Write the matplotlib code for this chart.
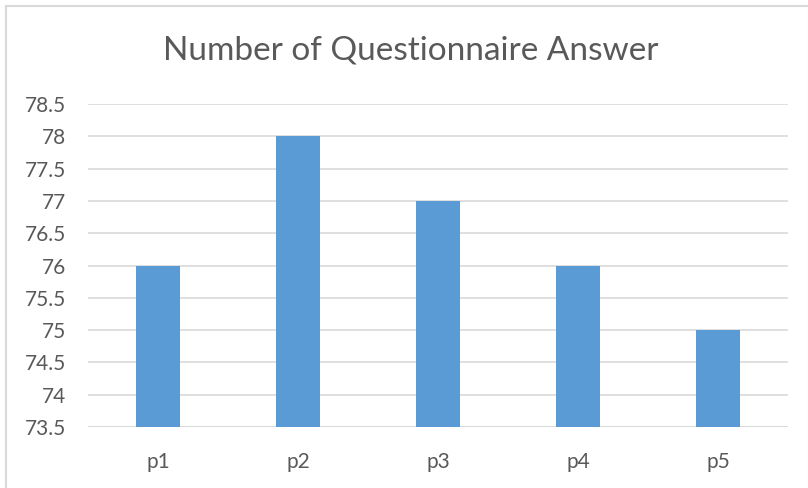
import matplotlib
matplotlib.use("Agg")
import matplotlib.pyplot as plt
from matplotlib.patches import Rectangle

categories = ["p1", "p2", "p3", "p4", "p5"]
values = [76, 78, 77, 76, 75]
yticks = [73.5, 74, 74.5, 75, 75.5, 76, 76.5, 77, 77.5, 78, 78.5]
ytick_labels = ["73.5", "74", "74.5", "75", "75.5", "76", "76.5", "77", "77.5", "78", "78.5"]

plt.rcParams['font.family'] = ['Lato', 'DejaVu Sans']
text_color = "#595959"

fig = plt.figure(figsize=(8.08, 4.88), dpi=100)
ax = fig.add_axes([88/808, 1-427/488, 700/808, 323/488])

x = list(range(len(categories)))
ax.bar(x, [v - 73.5 for v in values], bottom=73.5, width=0.31, color="#5B9BD5", zorder=3)
ax.set_xlim(-0.5, len(categories) - 0.5)
ax.set_ylim(73.5, 78.5)
ax.set_yticks(yticks)
ax.set_yticklabels(ytick_labels)
ax.set_xticks(x)
ax.set_xticklabels(categories)
ax.yaxis.grid(True, color="#D9D9D9", linewidth=1.2, zorder=0)
ax.tick_params(axis='both', length=0, colors=text_color, labelsize=15)
ax.tick_params(axis='y', pad=16)
ax.tick_params(axis='x', pad=18)
for s in ax.spines.values():
    s.set_visible(False)
ax.axhline(73.5, color="#D9D9D9", linewidth=1.2, zorder=2)

fig.text(411/808, 1-60/488, "Number of Questionnaire Answer", ha="center", va="baseline",
         fontsize=24, color=text_color)

fig.patches.append(Rectangle((6/808, -0.01), 1-5/808, 1-6/488 + 0.01, transform=fig.transFigure,
                             fill=False, edgecolor="#D9D9D9", linewidth=1.5))

fig.savefig("out.png", dpi=100, facecolor="white")
